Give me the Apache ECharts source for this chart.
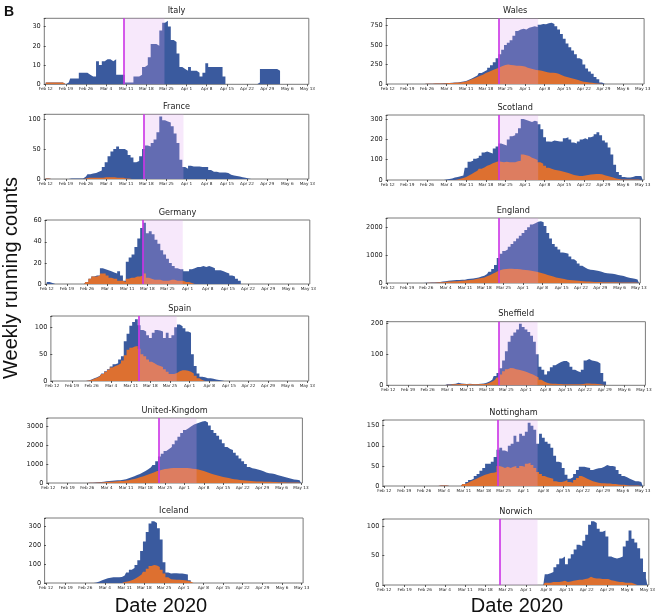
<!DOCTYPE html>
<html><head><meta charset="utf-8">
<script src="https://cdn.jsdelivr.net/npm/echarts@6/dist/echarts.min.js"></script>
<style>html,body{margin:0;padding:0;background:#fff}#c{width:665px;height:616px}</style>
</head><body><div id="c"></div><script>
const tickLabels = ['Feb 12','Feb 19','Feb 26','Mar 4','Mar 11','Mar 18','Mar 25','Apr 1','Apr 8','Apr 15','Apr 22','Apr 29','May 6','May 13'];
const regions = ['Italy','France','Germany','Spain','United-Kingdom','Iceland','Wales','Scotland','England','Sheffield','Nottingham','Norwich'];

// daily values, day 0 = Feb 12 ... day 91 = May 13 (blue = all, orange = subset)
const italyAll = [1,1,1,1,1,1,1, 0,1,3,3,3,6,6, 6,5,4,4,12,10,12, 13,13,12,13,5,5,5, 1,1,1,4,4,5,9, 10,14,21,21,20,28,32, 33,30,23,22,16,9,8, 7,9,7,7,6,4,6, 11,9,9,9,9,9,4, 0,0,0,0,0,0,0, 0,0,0,0,1,8,8, 8,8,8,8,7,0,0, 0,0,0,0,0,0,0, 0];
const italySub = [1,1,1,1,1,1,1, 0,0,0,0,0,0,0, 0,0,0,0,0,0,0, 0,0,0,0,0,0,0, 0,0,0,0,0,0,0, 0,0,0,0,0,0,0, 0,0,0,0,0,0,0, 0,0,0,0,0,0,0, 0,0,0,0,0,0,0, 0,0,0,0,0,0,0, 0,0,0,0,0,0,0, 0,0,0,0,0,0,0, 0,0,0,0,0,0,0, 0];
const franceAll = [1,1,0,0,0,0,0, 0,0,1,1,1,1,1, 4,8,9,10,12,14,20, 28,38,46,50,54,50,50, 47,40,36,28,30,38,50, 56,54,60,66,78,104,98, 96,94,88,76,60,32,20, 17,22,21,21,21,20,20, 20,15,12,12,11,11,11, 10,7,6,5,4,3,2, 1,0,0,0,0,0,0, 0,0,0,0,0,0,0, 0,0,0,0,0,0,0, 0];
const franceSub = [1,1,0,0,0,0,0, 0,0,0,0,0,0,0, 1,2,2,2,2,2,2, 3,3,3,3,2,2,2, 1,1,0,0,0,0,0, 0,0,0,0,0,0,0, 0,0,0,0,0,0,0, 0,0,0,0,0,0,0, 0,0,0,0,0,0,0, 0,0,0,0,0,0,0, 0,0,0,0,0,0,0, 0,0,0,0,0,0,0, 0,0,0,0,0,0,0, 0];
const germanyAll = [2,2,1,0,0,0,0, 0,0,0,0,0,0,0, 2,5,7,8,8,15,14, 13,12,11,10,12,8,3, 21,25,28,35,43,53,58, 48,50,47,42,38,32,28, 24,20,17,15,14,14,12, 12,14,15,16,16,17,16, 17,16,15,13,13,12,11, 10,8,7,5,3,0,0, 0,0,0,0,0,0,0, 0,0,0,0,0,0,0, 0,0,0,0,0,0,0, 0];
const germanySub = [0,0,0,0,0,0,0, 0,0,0,0,0,0,0, 2,5,7,7,8,10,10, 8,6,5,5,3,3,2, 5,6,6,7,7,8,10, 6,5,4,4,4,3,3, 3,4,4,3,3,3,2, 2,1,0,0,0,0,0, 0,0,0,0,0,0,0, 0,0,0,0,0,0,0, 0,0,0,0,0,0,0, 0,0,0,0,0,0,0, 0,0,0,0,0,0,0, 0];
const spainAll = [0,0,0,0,0,0,0, 0,0,0,0,0,0,1, 3,5,7,10,14,18,22, 27,31,33,40,46,74,88, 103,110,115,104,95,92,85, 80,90,95,94,92,80,90, 80,85,100,105,102,98,92, 90,50,28,14,8,7,5, 5,4,3,2,1,0,0, 0,0,0,0,0,0,0, 0,0,0,0,0,0,0, 0,0,0,0,0,0,0, 0,0,0,0,0,0,0, 0];
const spainSub = [0,0,0,0,0,0,0, 0,0,0,0,0,0,1, 2,4,6,9,13,17,21, 25,28,30,33,38,48,58, 62,64,65,60,50,46,40, 36,33,30,28,26,22,17, 13,13,15,18,20,20,19, 17,14,10,5,2,0,0, 0,0,0,0,0,0,0, 0,0,0,0,0,0,0, 0,0,0,0,0,0,0, 0,0,0,0,0,0,0, 0,0,0,0,0,0,0, 0];
const ukAll = [0,0,0,0,0,0,0, 0,0,0,0,0,0,2, 5,10,15,25,35,50,70, 90,110,120,130,140,150,170, 200,250,300,360,420,480,560, 640,730,830,950,1150,1400,1550, 1700,1800,1900,2050,2250,2450,2650, 2800,2900,3000,3100,3150,3200,3250, 3280,3200,3050,2800,2650,2500,2300, 2100,1900,1800,1750,1600,1450,1300, 1150,1000,850,780,750,720,680, 620,560,520,500,470,430,390, 340,300,260,220,190,170,150, 140];
const ukSub = [0,0,0,0,0,0,0, 0,0,0,0,0,0,2, 5,8,12,18,25,32,40, 50,60,70,80,90,100,110, 130,150,180,210,250,300,350, 400,450,500,560,620,660,700, 740,760,780,790,800,800,800, 800,790,780,760,740,710,670, 630,580,530,480,440,400,360, 320,290,260,230,200,180,160, 145,130,115,105,95,85,80, 75,70,65,60,55,50,45, 40,36,32,28,25,22,20, 18];
const icelandAll = [0,0,0,0,0,0,0, 0,0,0,0,0,0,0, 0,0,0,0,3,8,15, 20,25,28,30,30,30,32, 40,55,70,80,95,120,170, 220,270,315,327,318,290,230, 110,55,50,52,52,50,50, 48,45,15,0,0,0,0, 0,0,0,0,0,0,0, 0,0,0,0,0,0,0, 0,0,0,0,0,0,0, 0,0,0,0,0,0,0, 0,0,0,0,0,0,0, 0];
const icelandSub = [0,0,0,0,0,0,0, 0,0,0,0,0,0,0, 0,0,0,0,0,0,0, 0,0,0,0,0,0,0, 5,8,12,17,25,35,45, 60,75,90,95,92,85,70, 50,30,20,18,17,17,16, 15,12,8,0,0,0,0, 0,0,0,0,0,0,0, 0,0,0,0,0,0,0, 0,0,0,0,0,0,0, 0,0,0,0,0,0,0, 0,0,0,0,0,0,0, 0];
const walesAll = [0,0,0,0,0,0,0, 0,0,0,0,0,0,0, 2,3,4,5,6,8,10, 12,14,16,18,20,25,32, 40,55,70,90,110,140,160, 180,210,240,280,330,380,440, 500,530,560,620,680,700,710, 700,720,730,740,730,760,770, 765,780,785,770,740,700,640, 580,520,470,430,380,330,310, 250,200,160,130,90,60,20, 0,0,0,0,0,0,0, 0,0,0,0,0,0,0, 0];
const walesSub = [0,0,0,0,0,0,0, 0,0,0,0,0,0,0, 2,3,4,5,6,7,8, 10,12,14,16,18,20,25, 32,45,60,75,90,105,120, 140,155,170,185,200,215,230, 245,250,245,240,235,235,230, 225,210,200,190,180,175,170, 160,150,145,145,140,130,115, 100,90,80,70,60,50,40, 30,25,20,15,10,6,3, 0,0,0,0,0,0,0, 0,0,0,0,0,0,0, 0];
const scotlandAll = [0,0,0,0,0,0,0, 0,0,0,0,0,0,0, 0,0,0,0,0,0,0, 3,5,8,12,15,18,22, 60,90,95,105,110,120,135, 140,135,130,155,165,180,175, 170,200,215,220,230,255,300, 295,290,285,292,288,275,250, 210,190,188,195,192,190,190, 205,210,200,185,180,190,200, 205,200,210,215,225,235,220, 195,185,160,125,75,40,25, 15,12,12,15,20,20,20, 18];
const scotlandSub = [0,0,0,0,0,0,0, 0,0,0,0,0,0,0, 0,0,0,0,0,0,0, 0,0,0,0,3,6,10, 15,22,30,38,45,55,62, 70,75,82,88,92,90,88, 90,88,87,88,92,95,125, 122,118,110,105,98,88,80, 70,60,55,50,48,45,42, 38,35,30,25,22,20,20, 22,25,27,28,30,30,28, 24,20,16,12,8,5,3, 2,2,2,2,2,2,2, 2];
const englandAll = [0,0,0,0,0,0,0, 0,0,0,0,0,0,0, 5,10,15,20,30,40,50, 60,80,90,100,105,110,115, 120,140,150,160,180,200,230, 260,320,400,500,650,900,1050, 1150,1200,1300,1400,1500,1600,1700, 1800,1900,2000,2100,2150,2200,2220, 2180,2050,1800,1600,1400,1300,1200, 1100,1080,1050,950,850,780,700, 620,560,500,480,470,450,430, 400,370,350,340,330,310,290, 270,250,220,190,170,150,130, 120];
const englandSub = [0,0,0,0,0,0,0, 0,0,0,0,0,0,0, 3,5,8,12,18,24,30, 40,50,55,60,65,70,80, 90,100,110,120,140,160,180, 200,240,280,330,380,430,470, 490,500,510,510,505,500,490, 480,470,460,440,420,400,380, 350,320,290,260,230,200,180, 160,140,120,110,100,90,80, 70,60,55,50,45,40,36, 33,30,28,27,26,25,24, 22,21,20,19,18,17,16, 15];
const sheffieldAll = [0,0,0,0,0,0,0, 0,0,0,0,0,0,0, 0,0,0,0,0,0,0, 3,3,4,5,8,6,5, 4,5,4,3,4,5,6, 8,12,18,30,40,55,80, 110,140,160,170,180,198,188, 180,172,160,140,100,60,50, 35,45,58,65,70,75,78, 78,72,60,50,45,42,50, 80,85,80,78,76,70,40, 12,0,0,0,0,0,0, 0,0,0,0,0,0,0, 0];
const sheffieldSub = [0,0,0,0,0,0,0, 0,0,0,0,0,0,0, 0,0,0,0,0,0,0, 2,2,3,3,4,4,4, 3,4,3,3,3,4,4, 5,8,12,18,25,35,45, 52,56,55,52,50,48,45, 42,38,35,30,25,18,12, 8,6,5,5,4,4,3, 3,3,3,3,3,3,4, 6,6,5,5,4,3,2, 1,0,0,0,0,0,0, 0,0,0,0,0,0,0, 0];
const nottinghamAll = [0,0,0,0,0,0,0, 0,0,0,0,0,0,0, 0,0,0,0,0,0,1, 1,1,0,0,0,0,0, 5,10,15,18,25,30,38, 45,55,55,60,72,90,95, 88,85,100,105,125,110,130, 125,135,157,150,140,105,130, 120,110,105,95,75,60,58, 45,28,18,22,30,40,48, 48,46,45,40,42,44,45, 48,52,50,50,48,40,30, 25,22,18,15,12,12,10, 8];
const nottinghamSub = [0,0,0,0,0,0,0, 0,0,0,0,0,0,0, 0,0,0,0,0,0,1, 1,1,0,0,0,0,0, 5,8,12,15,18,22,25, 28,30,32,33,35,50,48, 45,48,45,48,50,45,50, 48,55,58,52,45,35,30, 25,22,20,18,12,10,10, 12,15,10,8,15,20,25, 22,18,15,12,10,8,7, 7,6,6,5,5,4,3, 3,2,1,1,1,1,1, 1];
const norwichAll = [0,0,0,0,0,0,0, 0,0,0,0,0,0,0, 0,0,0,0,0,0,0, 0,0,0,0,0,0,0, 0,0,0,0,0,0,0, 0,0,0,0,0,0,0, 0,0,0,0,0,0,0, 0,0,0,0,0,0,0, 18,20,22,30,35,45,48, 35,45,52,60,68,66,75, 85,102,108,105,95,90,92, 82,48,46,45,46,48,65, 75,92,78,72,62,45,22, 12];
const norwichSub = [0,0,0,0,0,0,0, 0,0,0,0,0,0,0, 0,0,0,0,0,0,0, 0,0,0,0,0,0,0, 0,0,0,0,0,0,0, 0,0,0,0,0,0,0, 0,0,0,0,0,0,0, 0,0,0,0,0,0,0, 4,4,5,5,5,6,7, 5,6,7,8,9,9,10, 11,14,12,11,11,10,10, 10,8,7,6,5,5,4, 4,4,2,0,0,0,0, 0];

// intervention line day and end of shaded period (day index), null = none
const lockdownDay = [27.3, 34, 33.4, 30.7, 39.7, null, 39.5, 39.7, 40.4, 39.4, 39.8, 40];
const shadeEndDay = [41.3, 47.9, 47.3, 44.4, 53.4, null, 53.7, 53.7, 54.5, 53.1, 54, 53];
const yMax  = [34.3, 107.8, 60.6, 121, 3441, 344, 840, 320, 2335, 205, 164, 111.6];
const yStep = [10, 50, 20, 50, 1000, 100, 250, 100, 1000, 100, 50, 50];

const allSeries = [italyAll, franceAll, germanyAll, spainAll, ukAll, icelandAll, walesAll, scotlandAll, englandAll, sheffieldAll, nottinghamAll, norwichAll];
const subSeries = [italySub, franceSub, germanySub, spainSub, ukSub, icelandSub, walesSub, scotlandSub, englandSub, sheffieldSub, nottinghamSub, norwichSub];

// layout: [left, top, width, height]
const layout = [
  [44.3, 18.3, 264.5, 66], [44.3, 114.3, 264.5, 64.7], [45.3, 220, 264.5, 64],
  [50.9, 316, 257.8, 65], [46.9, 418, 255.5, 65], [44.6, 518, 258.5, 65],
  [386.3, 18.5, 257.8, 65.5], [386.3, 115, 257.8, 65], [386.3, 218, 254, 65],
  [386.9, 321.7, 258.5, 63.6], [382.9, 420, 261.2, 66], [382.9, 519, 265.9, 66]
];
const BLUE = '#3a5a9e', ORANGE = '#dd7030', MAGENTA = '#cc33e6', SHADE = 'rgba(223,163,239,0.25)';
const dayCats = allSeries[0].map((_, k) => String(k));

// daily histogram drawn as a stepped filled series (one bar per day, no seams)
function histSeries(data, color, i, z) {
  return {type:'line', xAxisIndex:2*i, yAxisIndex:i, data:data, step:'middle', symbol:'none', silent:true, z:z,
    lineStyle:{width:0, color:color}, itemStyle:{color:color}, areaStyle:{color:color, opacity:1}};
}

const option = {animation:false, grid:[], xAxis:[], yAxis:[], series:[], graphic:[]};
regions.forEach((name, i) => {
  const [l, t, w, h] = layout[i];
  option.grid.push({left:l, top:t, width:w, height:h, show:true, borderColor:'#7a7a7a', borderWidth:1, backgroundColor:'rgba(0,0,0,0)'});
  option.xAxis.push({type:'category', gridIndex:i, data:dayCats, boundaryGap:true,
    axisLine:{show:false},
    axisTick:{show:true, alignWithLabel:true, interval:(k)=>k%7===0, length:2, lineStyle:{color:'#333', width:0.8}},
    axisLabel:{interval:(k)=>k%7===0, formatter:(v,k)=>(k%7===0 ? tickLabels[k/7] : ''), fontSize:4.2, color:'#222', margin:3, fontFamily:'DejaVu Sans'},
    splitLine:{show:false}});
  option.xAxis.push({type:'value', gridIndex:i, min:-0.5, max:91.5, show:false});
  option.yAxis.push({type:'value', gridIndex:i, min:0, max:yMax[i], interval:yStep[i],
    axisLine:{show:false},
    axisTick:{show:true, length:2, lineStyle:{color:'#333', width:0.8}},
    splitLine:{show:false},
    axisLabel:{fontSize:6.6, color:'#222', margin:3.5, fontFamily:'DejaVu Sans', showMaxLabel:true,
      formatter:(v)=>(Math.abs(v % yStep[i]) < 1e-9 ? String(v) : '')}});
  option.series.push(histSeries(allSeries[i], BLUE, i, 2));
  option.series.push(histSeries(subSeries[i], ORANGE, i, 3));
  if (lockdownDay[i] !== null) {
    option.series.push({type:'line', xAxisIndex:2*i+1, yAxisIndex:i, data:[], z:6, silent:true,
      markArea:{silent:true, z:6, itemStyle:{color:SHADE}, data:[[{xAxis:lockdownDay[i]}, {xAxis:shadeEndDay[i]}]]},
      markLine:{silent:true, z:7, symbol:['none','none'], label:{show:false}, lineStyle:{color:MAGENTA, width:1.6, type:'solid'}, data:[{xAxis:lockdownDay[i]}]}});
  }
  option.graphic.push({type:'text', x:l + w/2, y:t - 7.5, silent:true, style:{text:name, fontSize:8.2, fontFamily:'DejaVu Sans', fill:'#222', align:'center', verticalAlign:'middle'}});
});
option.graphic.push({type:'text', x:9, y:12, style:{text:'B', fontSize:14, fontWeight:'bold', fontFamily:'Liberation Sans', fill:'#111', align:'center', verticalAlign:'middle'}});
option.graphic.push({type:'text', x:11, y:278, rotation:Math.PI/2, style:{text:'Weekly running counts', fontSize:20, fontFamily:'Liberation Sans', fill:'#111', align:'center', verticalAlign:'middle'}});
option.graphic.push({type:'text', x:161, y:606, style:{text:'Date 2020', fontSize:20, fontFamily:'Liberation Sans', fill:'#111', align:'center', verticalAlign:'middle'}});
option.graphic.push({type:'text', x:517, y:606, style:{text:'Date 2020', fontSize:20, fontFamily:'Liberation Sans', fill:'#111', align:'center', verticalAlign:'middle'}});

const chart = echarts.init(document.getElementById('c'), null, {renderer:'canvas'});
chart.setOption(option);
</script></body></html>
